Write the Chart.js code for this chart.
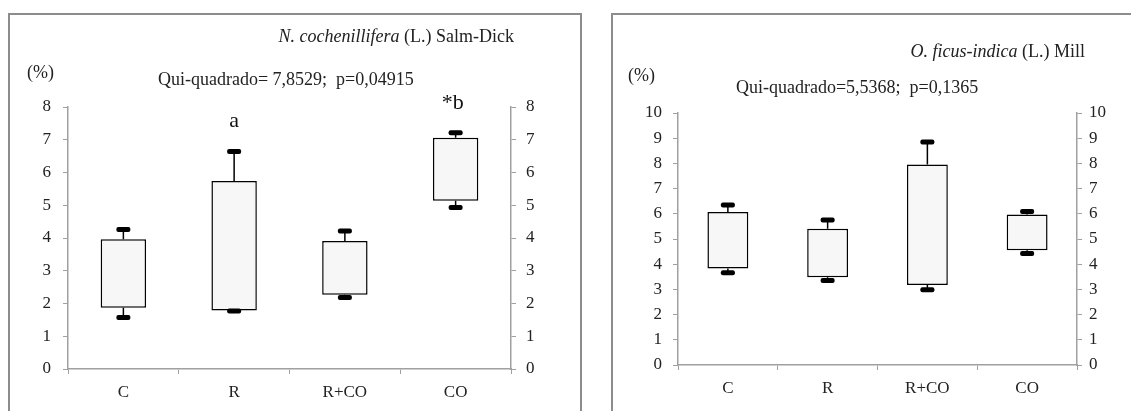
<!DOCTYPE html>
<html>
<head>
<meta charset="utf-8">
<title>Box plots</title>
<script src="https://cdn.jsdelivr.net/npm/chart.js@4.4.1/dist/chart.umd.min.js"></script>
<style>
  html, body { margin: 0; padding: 0; background: #fff; width: 1131px; height: 411px; overflow: hidden; }
  body { position: relative; }
  .frame { position: absolute; box-sizing: border-box; border: 2px solid #8c8c8c; border-bottom: none; height: 430px; }
  #frameLeft { left: 8px; top: 13px; width: 574px; }
  #frameRight { left: 611px; top: 13px; width: 560px; }
  canvas { position: absolute; top: 0; }
  #chartLeft { left: 0; }
  #chartRight { left: 596px; }
</style>
</head>
<body>
<div class="frame" id="frameLeft"></div>
<div class="frame" id="frameRight"></div>
<canvas id="chartLeft" width="596" height="411"></canvas>
<canvas id="chartRight" width="535" height="411"></canvas>
<script>
// Treatments on the x axis
const categories = ['C', 'R', 'R+CO', 'CO'];

// N. cochenillifera (%): whisker ends and box edges per treatment
const ncMin = [1.57, 1.77, 2.18, 4.93];
const ncQ1  = [1.87, 1.79, 2.27, 5.14];
const ncQ3  = [3.96, 5.74, 3.91, 7.06];
const ncMax = [4.26, 6.64, 4.21, 7.21];
const ncLetters = ['', 'a', '', '*b'];
const ncAxisMax = 8;

// O. ficus-indica (%): whisker ends and box edges per treatment
const ofMin = [3.66, 3.35, 2.99, 4.42];
const ofQ1  = [3.83, 3.48, 3.17, 4.55];
const ofQ3  = [6.07, 5.41, 7.96, 5.97];
const ofMax = [6.35, 5.75, 8.85, 6.09];
const ofLetters = ['', '', '', ''];
const ofAxisMax = 10;

const SERIF = '"Liberation Serif", "Times New Roman", serif';
const AXIS_GREY = '#a0a0a0';
const TEXT = '#222';

// Whiskers with thick rounded caps, drawn on the chart's own scales
function whiskerPlugin(lo, hi, q1, q3, letters) {
  return {
    id: 'whiskers',
    afterDatasetsDraw(chart) {
      const { ctx } = chart;
      const xs = chart.scales.x, ys = chart.scales.y;
      ctx.save();
      for (let i = 0; i < categories.length; i++) {
        const px = xs.getPixelForValue(i);
        const yHi = ys.getPixelForValue(hi[i]);
        const yLo = ys.getPixelForValue(lo[i]);
        const yQ3 = ys.getPixelForValue(q3[i]);
        const yQ1 = ys.getPixelForValue(q1[i]);
        ctx.strokeStyle = '#000';
        ctx.lineWidth = 1.5;
        ctx.beginPath();
        ctx.moveTo(px, yQ3); ctx.lineTo(px, yHi);
        ctx.moveTo(px, yQ1); ctx.lineTo(px, yLo);
        ctx.stroke();
        ctx.fillStyle = '#000';
        [yHi, yLo].forEach(cy => {
          ctx.beginPath();
          ctx.roundRect(px - 7, cy - 2.5, 14, 5, 2);
          ctx.fill();
        });
        if (letters[i]) {
          ctx.font = '22px ' + SERIF;
          ctx.fillStyle = '#111';
          ctx.textAlign = 'center';
          ctx.textBaseline = 'middle';
          ctx.fillText(letters[i], px - (letters[i].length > 1 ? 3 : 0), yHi - 30);
        }
      }
      ctx.restore();
    }
  };
}

// Species name (italic part + author), unit label and test statistic
function headerPlugin(cfg) {
  return {
    id: 'header',
    afterDraw(chart) {
      const { ctx } = chart;
      ctx.save();
      ctx.fillStyle = TEXT;
      ctx.textBaseline = 'middle';
      ctx.font = '18px ' + SERIF;
      const restW = ctx.measureText(cfg.author).width;
      ctx.font = 'italic 18px ' + SERIF;
      const itW = ctx.measureText(cfg.species).width;
      const x0 = cfg.titleRight - restW - itW;
      ctx.textAlign = 'left';
      ctx.fillText(cfg.species, x0, cfg.titleY);
      ctx.font = '18px ' + SERIF;
      ctx.fillText(cfg.author, x0 + itW, cfg.titleY);
      ctx.fillText('(%)', cfg.unitX, cfg.unitY);
      ctx.fillText(cfg.stat, cfg.statX, cfg.statY);
      ctx.restore();
    }
  };
}

function makeChart(id, lo, q1, q3, hi, axisMax, letters, geom, header) {
  const tickFont = { family: SERIF, size: 17 };
  const catFont = { family: SERIF, size: 17 };
  const yAxis = (position, padding, width) => ({
    position,
    min: 0,
    max: axisMax,
    ticks: { stepSize: 1, font: tickFont, color: TEXT, padding },
    grid: { drawOnChartArea: false, drawTicks: true, tickLength: 5, color: AXIS_GREY, lineWidth: 1 },
    border: { color: AXIS_GREY, width: 1.5 },
    afterFit(s) { s.width = width; }
  });
  return new Chart(document.getElementById(id), {
    type: 'bar',
    data: {
      labels: categories,
      datasets: [{
        data: categories.map((_, i) => [q1[i], q3[i]]),
        backgroundColor: '#f7f7f7',
        borderColor: '#000',
        borderWidth: 1.5,
        borderSkipped: false,
        categoryPercentage: 1,
        barPercentage: 0.41,
        yAxisID: 'y'
      }]
    },
    options: {
      responsive: false,
      devicePixelRatio: 1,
      animation: false,
      layout: { padding: { top: geom.top, left: 0, right: 0, bottom: 0 } },
      plugins: { legend: { display: false }, tooltip: { enabled: false }, title: { display: false } },
      scales: {
        x: {
          offset: true,
          ticks: { font: catFont, color: TEXT, padding: geom.xPad },
          grid: { offset: true, drawOnChartArea: false, drawTicks: true, tickLength: 5, color: AXIS_GREY, lineWidth: 1 },
          border: { color: AXIS_GREY, width: 1.5 },
          afterFit(s) { s.height = geom.xHeight; }
        },
        y: yAxis('left', geom.leftPad, geom.leftW),
        y2: yAxis('right', geom.rightPad, geom.rightW)
      }
    },
    plugins: [whiskerPlugin(lo, hi, q1, q3, letters), headerPlugin(header)]
  });
}

makeChart('chartLeft', ncMin, ncQ1, ncQ3, ncMax, ncAxisMax, ncLetters,
  { top: 107, xHeight: 42, leftW: 68, rightW: 85, leftPad: 12, rightPad: 10, xPad: 8 },
  { species: 'N. cochenillifera', author: ' (L.) Salm-Dick', titleRight: 514, titleY: 37,
    unitX: 27, unitY: 73, stat: 'Qui-quadrado= 7,8529;  p=0,04915', statX: 158, statY: 80 });

makeChart('chartRight', ofMin, ofQ1, ofQ3, ofMax, ofAxisMax, ofLetters,
  { top: 113, xHeight: 46, leftW: 82, rightW: 54, leftPad: 11, rightPad: 7, xPad: 8 },
  { species: 'O. ficus-indica', author: ' (L.) Mill', titleRight: 489, titleY: 52,
    unitX: 32, unitY: 76, stat: 'Qui-quadrado=5,5368;  p=0,1365', statX: 140, statY: 88 });
</script>
</body>
</html>
